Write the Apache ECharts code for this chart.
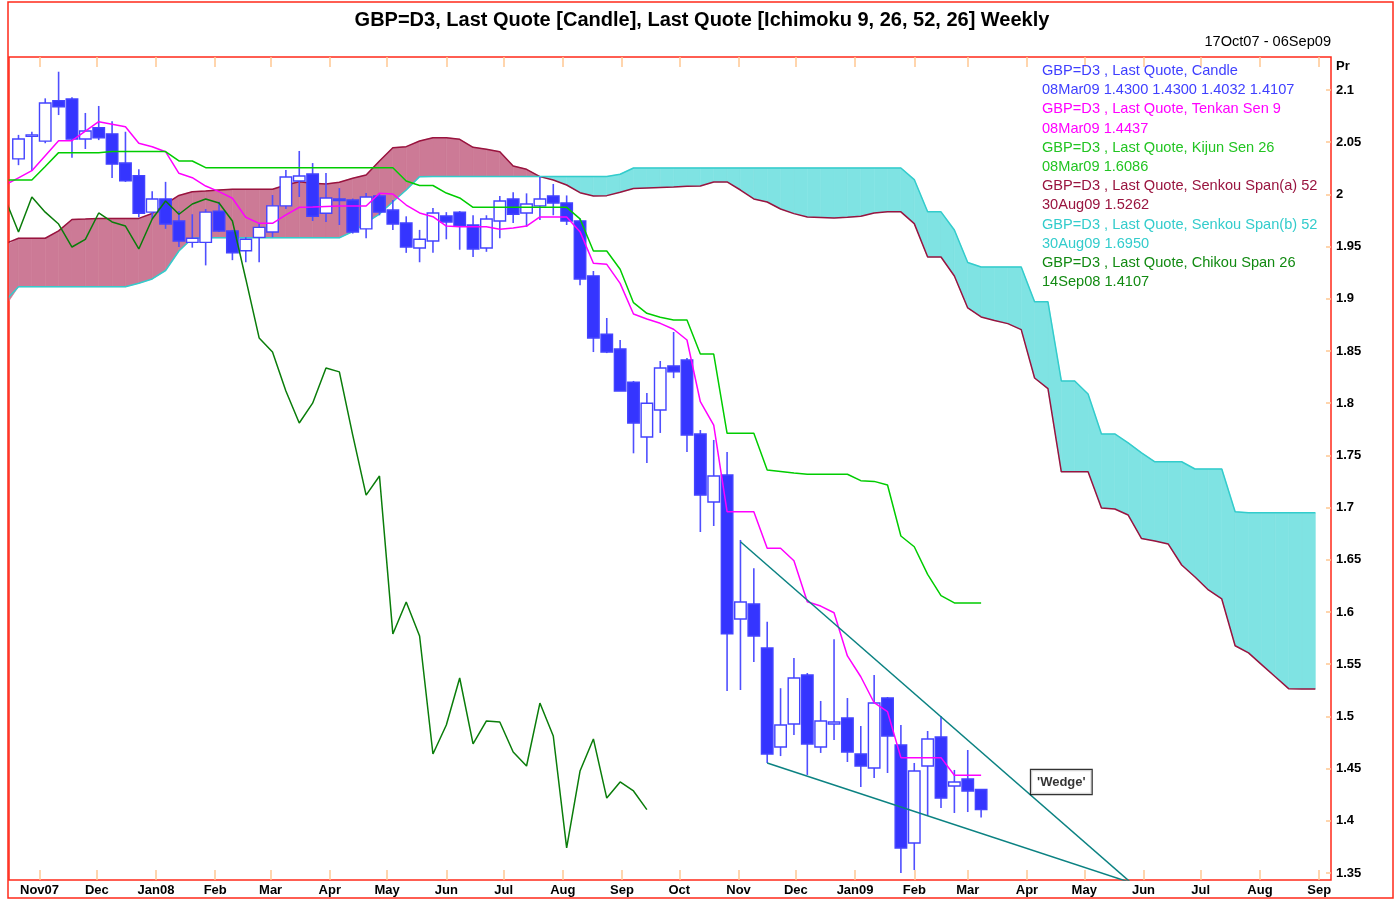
<!DOCTYPE html>
<html>
<head>
<meta charset="utf-8">
<title>GBP=D3 Ichimoku Weekly</title>
<script src="https://cdn.jsdelivr.net/npm/echarts@6/dist/echarts.min.js"></script>
<style>
  html, body { margin: 0; padding: 0; background: #fff; }
  #main { width: 1398px; height: 899px; }
</style>
</head>
<body>
<div id="main"></div>
<script>
const WEEK = 7 * 24 * 3600 * 1000;
const firstWeek = Date.UTC(2007, 9, 21); // week of the first candle
const weekTime = k => firstWeek + k * WEEK;

// weekly candles, index 0 = 21Oct07 ... 72 = 08Mar09
const open = [2.034, 2.056, 2.051, 2.0898, 2.0914, 2.053, 2.0639, 2.058, 2.030, 2.018,
  1.983, 1.9956, 1.9745, 1.954, 1.954, 1.984, 1.965, 1.946, 1.9588, 1.964,
  1.989, 2.0128, 2.0195, 1.982, 1.995, 1.9946, 1.967, 1.9985, 1.985, 1.9726,
  1.9487, 1.9554, 1.9793, 1.983, 1.9707, 1.9487, 1.9745, 1.9956, 1.9822, 1.989,
  1.9985, 1.9918, 1.9745, 1.922, 1.866, 1.8519, 1.820, 1.7676, 1.7935, 1.8356,
  1.8414, 1.7705, 1.7054, 1.7312, 1.5933, 1.6077, 1.5655, 1.4707, 1.4927, 1.5397,
  1.4707, 1.4927, 1.4985, 1.464, 1.4506, 1.5176, 1.4726, 1.3787, 1.4525, 1.4803,
  1.4333, 1.44, 1.43];
const high = [2.057, 2.060, 2.092, 2.1175, 2.093, 2.078, 2.0847, 2.070, 2.060, 2.024,
  2.003, 2.012, 1.984, 1.981, 1.986, 1.993, 1.966, 1.959, 1.9726, 1.9994,
  2.0234, 2.0416, 2.030, 2.0205, 2.006, 1.996, 2.0013, 2.001, 1.9946, 1.979,
  1.966, 1.987, 1.983, 1.984, 1.980, 1.980, 1.9985, 2.002, 2.001, 2.0167,
  2.010, 1.999, 1.977, 1.9266, 1.8816, 1.8605, 1.8213, 1.8098, 1.8404, 1.8682,
  1.8433, 1.7743, 1.7648, 1.7533, 1.669, 1.642, 1.5906, 1.527, 1.556, 1.5416,
  1.5148, 1.574, 1.5176, 1.4908, 1.5397, 1.5186, 1.4918, 1.4554, 1.486, 1.5004,
  1.4487, 1.4678, 1.43];
const low = [2.028, 2.023, 2.049, 2.076, 2.035, 2.0435, 2.052, 2.0157, 2.012, 1.978,
  1.977, 1.967, 1.9496, 1.949, 1.932, 1.964, 1.937, 1.935, 1.935, 1.959,
  1.986, 1.9975, 1.9745, 1.9735, 1.9707, 1.9625, 1.958, 1.98, 1.966, 1.944,
  1.935, 1.944, 1.957, 1.947, 1.940, 1.945, 1.958, 1.9726, 1.969, 1.9755,
  1.980, 1.9707, 1.913, 1.849, 1.848, 1.8117, 1.752, 1.7427, 1.7715, 1.824,
  1.7533, 1.6766, 1.6824, 1.5243, 1.5253, 1.552, 1.4554, 1.462, 1.4822, 1.4439,
  1.465, 1.4774, 1.4563, 1.4324, 1.441, 1.4458, 1.35, 1.3529, 1.4046, 1.4123,
  1.4075, 1.4084, 1.4032];
const close = [2.053, 2.057, 2.0875, 2.084, 2.053, 2.0607, 2.0543, 2.029, 2.0131, 1.982,
  1.9956, 1.9717, 1.9554, 1.958, 1.983, 1.965, 1.944, 1.957, 1.9684, 1.989,
  2.0167, 2.0176, 1.979, 1.9965, 1.9956, 1.964, 1.9975, 1.983, 1.9716, 1.9496,
  1.957, 1.9822, 1.9736, 1.9697, 1.9477, 1.9764, 1.9937, 1.981, 1.9908, 1.9956,
  1.9918, 1.9745, 1.919, 1.8625, 1.849, 1.8117, 1.781, 1.800, 1.8337, 1.830,
  1.7695, 1.712, 1.7303, 1.579, 1.6096, 1.577, 1.464, 1.4918, 1.5368, 1.4736,
  1.4956, 1.4946, 1.4659, 1.4525, 1.5128, 1.4812, 1.374, 1.4477, 1.4784, 1.4218,
  1.4372, 1.4286, 1.4107];

// ichimoku lines, first value = the week before the first candle (index -1)
const tenkan = [2.009, 2.0159, 2.0227, 2.0371, 2.0514, 2.0514, 2.0605, 2.0696, 2.0672, 2.0648,
  2.0489, 2.0457, 2.0409, 2.0202, 2.016, 2.008, 2.0026, 1.9963, 1.9781, 1.9723,
  1.9723, 1.9803, 1.9876, 1.9879, 1.9884, 1.9889, 1.9889, 1.9889, 2.0011, 2.0004,
  1.9898, 1.9822, 1.9786, 1.9697, 1.969, 1.969, 1.969, 1.9666, 1.9678, 1.9697,
  1.9784, 1.9784, 1.9784, 1.9643, 1.934, 1.933, 1.9148, 1.8854, 1.8807, 1.8765,
  1.8708, 1.8605, 1.8014, 1.7791, 1.6961, 1.6961, 1.6961, 1.661, 1.661, 1.6491,
  1.6099, 1.6057, 1.5993, 1.5579, 1.538, 1.5131, 1.5045, 1.4605, 1.4605, 1.4605,
  1.4605, 1.4437, 1.4437, 1.4437];
const kijun = [2.0138, 2.0138, 2.0138, 2.0268, 2.04, 2.04, 2.04, 2.04, 2.041, 2.041,
  2.041, 2.041, 2.041, 2.032, 2.032, 2.0256, 2.0256, 2.0256, 2.0256, 2.0256,
  2.0256, 2.0256, 2.0256, 2.0256, 2.0256, 2.0256, 2.0256, 2.0256, 2.0256, 2.0256,
  2.0128, 2.0085, 2.0085, 2.0013, 1.9966, 1.9876, 1.9876, 1.9876, 1.9876, 1.9876,
  1.9876, 1.9876, 1.9876, 1.9766, 1.9458, 1.9458, 1.9283, 1.8963, 1.8861, 1.8823,
  1.8797, 1.8797, 1.8471, 1.8471, 1.7712, 1.7712, 1.7712, 1.736, 1.7346, 1.7331,
  1.7319, 1.7319, 1.7319, 1.7319, 1.7258, 1.7251, 1.7216, 1.6728, 1.6625, 1.6361,
  1.6156, 1.6087, 1.6086, 1.6086];
const senkouA = [1.9528, 1.958, 1.958, 1.958, 1.965, 1.976, 1.9764, 1.977, 1.977, 1.977,
  1.977, 1.9817, 1.9908, 1.999, 2.0026, 2.0033, 2.0042, 2.0049, 2.0049, 2.0049,
  2.0049, 2.009, 2.0122, 2.0106, 2.010, 2.0116, 2.0154, 2.0186, 2.032, 2.0447,
  2.0457, 2.0511, 2.0543, 2.0543, 2.0528, 2.0451, 2.0432, 2.0409, 2.0272, 2.024,
  2.017, 2.0138, 2.009, 2.0016, 1.9985, 1.9988, 2.002, 2.0056, 2.0061, 2.0066,
  2.007, 2.0077, 2.008, 2.0119, 2.0119, 2.0042, 1.9956, 1.9927, 1.986, 1.9816,
  1.9784, 1.9779, 1.9774, 1.978, 1.979, 1.9822, 1.9833, 1.9833, 1.972, 1.940,
  1.940, 1.9218, 1.8912, 1.8826, 1.8793, 1.8762, 1.8705, 1.8241, 1.814, 1.7343,
  1.7343, 1.7343, 1.6996, 1.6987, 1.6929, 1.6703, 1.668, 1.6651, 1.645, 1.6335,
  1.6211, 1.6125, 1.5677, 1.5608, 1.5494, 1.538, 1.5266, 1.5262, 1.5262];
const senkouB = [1.898, 1.9116, 1.9116, 1.9116, 1.9116, 1.9116, 1.9116, 1.9116, 1.9116, 1.9116,
  1.9149, 1.919, 1.9271, 1.9458, 1.958, 1.9585, 1.9585, 1.9585, 1.9585, 1.9585,
  1.9585, 1.9585, 1.9585, 1.9585, 1.9585, 1.9585, 1.9643, 1.9729, 1.9812, 1.993,
  2.0042, 2.017, 2.0171, 2.0171, 2.0171, 2.0171, 2.0171, 2.0171, 2.0171, 2.0171,
  2.0171, 2.0171, 2.0171, 2.0171, 2.0171, 2.0171, 2.0193, 2.0253, 2.0253, 2.0253,
  2.0253, 2.0253, 2.0253, 2.0253, 2.0253, 2.0253, 2.0253, 2.0253, 2.0253, 2.0253,
  2.0253, 2.0253, 2.0253, 2.0253, 2.0253, 2.0253, 2.0253, 2.0253, 2.0142, 1.9833,
  1.9833, 1.9659, 1.9348, 1.9305, 1.9305, 1.9305, 1.9305, 1.8971, 1.8971, 1.8213,
  1.8213, 1.8088, 1.7705, 1.7705, 1.762, 1.7525, 1.7439, 1.7439, 1.7439, 1.737,
  1.737, 1.737, 1.696, 1.695, 1.695, 1.695, 1.695, 1.695, 1.695];
const chikouShift = 25; // chikou = close plotted 25 weeks back

// drawn wedge trend lines [week index, price]
const wedgeUpper = [[54, 1.6673], [84, 1.3319]];
const wedgeLower = [[56, 1.4554], [84, 1.3374]];
const wedgeNote = [78, 1.4372];

const priceTicks = [1.35, 1.4, 1.45, 1.5, 1.55, 1.6, 1.65, 1.7, 1.75, 1.8, 1.85, 1.9, 1.95, 2, 2.05, 2.1];
const monthNames = ['Jan', 'Feb', 'Mar', 'Apr', 'May', 'Jun', 'Jul', 'Aug', 'Sep', 'Oct', 'Nov', 'Dec'];

const legendLines = [
  ['GBP=D3 , Last Quote, Candle', '#3f3fff'],
  ['08Mar09 1.4300 1.4300 1.4032 1.4107', '#3f3fff'],
  ['GBP=D3 , Last Quote, Tenkan Sen 9', '#ff00ff'],
  ['08Mar09 1.4437', '#ff00ff'],
  ['GBP=D3 , Last Quote, Kijun Sen 26', '#22c422'],
  ['08Mar09 1.6086', '#22c422'],
  ['GBP=D3 , Last Quote, Senkou Span(a) 52', '#99143f'],
  ['30Aug09 1.5262', '#99143f'],
  ['GBP=D3 , Last Quote, Senkou Span(b) 52', '#33cccc'],
  ['30Aug09 1.6950', '#33cccc'],
  ['GBP=D3 , Last Quote, Chikou Span 26', '#128a12'],
  ['14Sep08 1.4107', '#128a12']
];

const candleColor = '#3535ff';
const tickColor = '#ffc893';
const FONT = '"Liberation Sans", Arial, sans-serif';

// month ticks on the time scale
const monthTicks = [];
for (let y = 2007, m = 10; y < 2009 || m <= 8; ) {
  monthTicks.push(Date.UTC(y, m, 1));
  m++;
  if (m > 11) { m = 0; y++; }
}

const candleData = open.map((o, i) => [weekTime(i), o, close[i], low[i], high[i]]);
const lineData = arr => arr.map((v, i) => [weekTime(i - 1), v]);
const chikouData = close.slice(chikouShift - 1).map((v, i) => [weekTime(i - 1), v]);
const cloudData = [];
for (let i = 0; i < senkouA.length - 1; i++) {
  cloudData.push([weekTime(i - 1), senkouA[i], senkouB[i], weekTime(i), senkouA[i + 1], senkouB[i + 1]]);
}

function renderCandle(params, api) {
  const t = api.value(0);
  const o = api.value(1), c = api.value(2), lo = api.value(3), hi = api.value(4);
  const top = api.coord([t, Math.max(o, c)]);
  const bot = api.coord([t, Math.min(o, c)]);
  const pHi = api.coord([t, hi]);
  const pLo = api.coord([t, lo]);
  const w = api.size([WEEK, 0])[0] * 0.86;
  const up = c >= o;
  return {
    type: 'group',
    children: [
      { type: 'line', shape: { x1: pHi[0], y1: pHi[1], x2: pLo[0], y2: pLo[1] },
        style: { stroke: '#4f4fff', lineWidth: 1.6 } },
      { type: 'rect', shape: { x: top[0] - w / 2, y: top[1], width: w, height: Math.max(bot[1] - top[1], 1.5) },
        style: { fill: up ? '#ffffff' : candleColor, stroke: '#4343ff', lineWidth: 1.4 } }
    ]
  };
}

function renderCloud(params, api) {
  const x0 = api.value(0), a0 = api.value(1), b0 = api.value(2);
  const x1 = api.value(3), a1 = api.value(4), b1 = api.value(5);
  const d0 = a0 - b0, d1 = a1 - b1;
  const parts = [];
  if (d0 * d1 < 0) {
    const t = d0 / (d0 - d1);
    const xm = x0 + t * (x1 - x0), ym = a0 + t * (a1 - a0);
    parts.push({ pts: [[x0, a0], [xm, ym], [x0, b0]], up: d0 > 0 });
    parts.push({ pts: [[xm, ym], [x1, a1], [x1, b1]], up: d1 > 0 });
  } else {
    parts.push({ pts: [[x0, a0], [x1, a1], [x1, b1], [x0, b0]], up: d0 + d1 > 0 });
  }
  const cs = params.coordSys;
  return {
    type: 'group',
    children: parts.map(p => {
      const col = p.up ? '#cc7a96' : '#7fe3e3';
      const pts = echarts.graphic.clipPointsByRect(p.pts.map(pt => api.coord(pt)),
        { x: cs.x, y: cs.y, width: cs.width, height: cs.height });
      return { type: 'polygon', shape: { points: pts }, style: { fill: col, stroke: col, lineWidth: 0.6 } };
    })
  };
}

function lineSeries(name, data, color, z) {
  return {
    name: name, type: 'line', data: data, showSymbol: false, z: z,
    lineStyle: { color: color, width: 1.5 }, itemStyle: { color: color },
    clip: true, silent: true
  };
}

const chart = echarts.init(document.getElementById('main'));
chart.setOption({
  animation: false,
  backgroundColor: '#ffffff',
  textStyle: { fontFamily: FONT },
  grid: { left: 9, right: 67, top: 57, bottom: 19, show: true, borderColor: '#ff2a1a', borderWidth: 1.5 },
  xAxis: [{
    type: 'value', position: 'bottom',
    min: weekTime(-0.71), max: weekTime(98.17),
    axisLine: { show: false },
    splitLine: { show: false },
    axisTick: { inside: true, length: 10, customValues: monthTicks, lineStyle: { color: tickColor, width: 1.5 } },
    axisLabel: {
      customValues: monthTicks, margin: 4, color: '#000', fontWeight: 'bold', fontSize: 13, fontFamily: FONT,
      formatter: function (v) {
        const d = new Date(v);
        const m = d.getUTCMonth();
        let s = monthNames[m];
        if (m === 0 || v === monthTicks[0]) s += String(d.getUTCFullYear()).slice(2);
        return s;
      }
    }
  }, {
    type: 'value', position: 'top',
    min: weekTime(-0.71), max: weekTime(98.17),
    axisLine: { show: false },
    splitLine: { show: false },
    axisTick: { inside: true, length: 10, customValues: monthTicks, lineStyle: { color: tickColor, width: 1.5 } },
    axisLabel: { show: false }
  }],
  yAxis: {
    type: 'value', position: 'right',
    min: 1.3433, max: 2.1316,
    axisLine: { show: false },
    splitLine: { show: false },
    axisTick: { inside: true, length: 5, customValues: priceTicks, lineStyle: { color: tickColor, width: 1.5 } },
    axisLabel: {
      customValues: priceTicks, margin: 5, color: '#000', fontWeight: 'bold', fontSize: 13, fontFamily: FONT,
      formatter: v => String(+(+v).toFixed(2))
    }
  },
  graphic: [
    { type: 'rect', shape: { x: 8, y: 2, width: 1385, height: 896 },
      style: { fill: null, stroke: '#ff2a1a', lineWidth: 1.5 }, silent: true, z: 100 },
    { type: 'text', x: 702, y: 20,
      style: { text: 'GBP=D3, Last Quote [Candle], Last Quote [Ichimoku 9, 26, 52, 26] Weekly',
        font: 'bold 20px ' + FONT, fill: '#000', textAlign: 'center', textVerticalAlign: 'middle' } },
    { type: 'text', x: 1331, y: 42,
      style: { text: '17Oct07 - 06Sep09', font: '14.6px ' + FONT, fill: '#000', textAlign: 'right', textVerticalAlign: 'middle' } },
    { type: 'text', x: 1336, y: 66,
      style: { text: 'Pr', font: 'bold 13px ' + FONT, fill: '#000', textAlign: 'left', textVerticalAlign: 'middle' } }
  ].concat(legendLines.map((l, i) => ({
    type: 'text', x: 1042, y: 71 + i * 19.2, z: 50,
    style: { text: l[0], font: '14.6px ' + FONT, fill: l[1], textAlign: 'left', textVerticalAlign: 'middle' }
  }))),
  series: [
    { name: 'Cloud', type: 'custom', renderItem: renderCloud, data: cloudData, z: 1, silent: true,
      encode: { x: [0, 3], y: [1, 2, 4, 5] } },
    lineSeries('Senkou Span(a)', lineData(senkouA), '#99143f', 2),
    lineSeries('Senkou Span(b)', lineData(senkouB), '#33cccc', 2),
    { name: 'Candle', type: 'custom', renderItem: renderCandle, data: candleData, z: 3, silent: true,
      encode: { x: 0, y: [1, 2, 3, 4] } },
    lineSeries('Tenkan Sen', lineData(tenkan), '#ff00ff', 4),
    lineSeries('Kijun Sen', lineData(kijun), '#00cc00', 4),
    lineSeries('Chikou Span', chikouData, '#0a7d0a', 4),
    lineSeries('Wedge upper', wedgeUpper.map(p => [weekTime(p[0]), p[1]]), '#0b8282', 5),
    lineSeries('Wedge lower', wedgeLower.map(p => [weekTime(p[0]), p[1]]), '#0b8282', 5),
    {
      name: 'Wedge note', type: 'scatter', z: 6, silent: true,
      data: [[weekTime(wedgeNote[0]), wedgeNote[1]]], symbolSize: 1,
      itemStyle: { color: '#ffffff' },
      label: {
        show: true, position: 'inside', formatter: "'Wedge'", color: '#000',
        fontWeight: 'bold', fontSize: 13, fontFamily: FONT,
        backgroundColor: '#ffffff', borderColor: '#000', borderWidth: 1.2, padding: [6, 6, 5, 6]
      }
    }
  ]
});
</script>
</body>
</html>
